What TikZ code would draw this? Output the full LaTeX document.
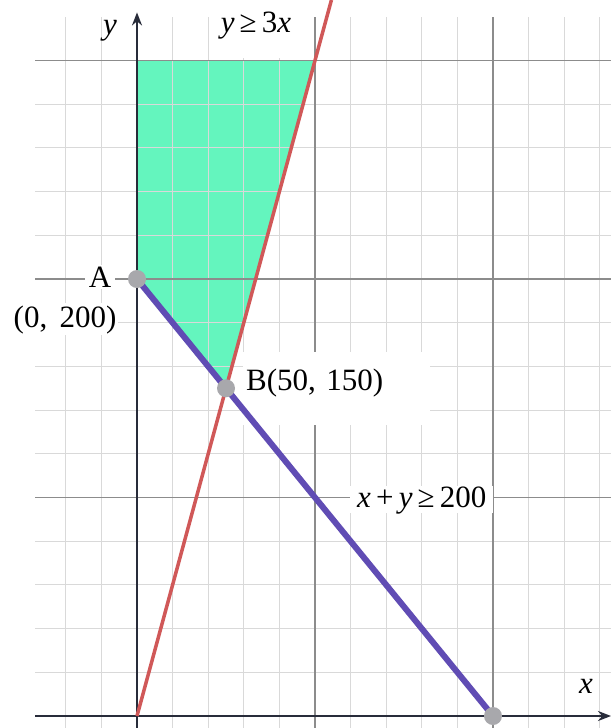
\documentclass[tikz,border=0pt]{standalone}
\usepackage{fontspec}
\setmainfont{Liberation Serif}
\usetikzlibrary{arrows.meta}
\definecolor{regfill}{RGB}{100,245,190}
\definecolor{redline}{RGB}{208,88,88}
\definecolor{purpline}{RGB}{96,76,180}
\definecolor{axcol}{RGB}{40,44,58}
\definecolor{ptgray}{RGB}{168,168,172}
\begin{document}
\begin{tikzpicture}[x=1.78pt, y=2.185pt,
    grd/.style={draw=black!15, line width=1pt},
    majgrd/.style={draw=black!45, line width=1.4pt},
    ax/.style={axcol, line width=2.4pt},
    arr/.style={-{Stealth[length=13pt,width=10pt]}},
    lbl/.style={fill=white, inner xsep=4pt, inner ysep=0pt, font=\fontsize{31}{36}\selectfont},
    pt/.style={circle, fill=ptgray, minimum size=18pt, inner sep=0pt}
  ]
  \useasboundingbox[fill=white] (-76.97,-5.49) rectangle (266.3,327.7);
  \coordinate (O) at (0,0);
  \coordinate (A) at (0,200);
  \coordinate (B) at (50,150);
  \coordinate (C) at (200,0);
  \coordinate (P) at (100,300);
  \coordinate (Q) at (0,300);
  \coordinate (T) at (109.23,327.7);
  % feasible region
  \fill[regfill] (Q) -- (A) -- (B) -- (P) -- cycle;
  % grid
  \foreach \gx in {-40,-20,20,40,...,260} \draw[grd] (\gx,-5.49) -- (\gx,320);
  \foreach \gy in {20,40,...,280} \draw[grd] (-57.3,\gy) -- (266.3,\gy);
  \foreach \gx in {100,200} \draw[majgrd] (\gx,-5.49) -- (\gx,320);
  \foreach \gy in {100,200,300} \draw[majgrd] (-57.3,\gy) -- (266.3,\gy);
  % labels
  \node[lbl, fill=none, anchor=base] (ylab) at (-15.2,311.7) {\textit{y}};
  \node[lbl, anchor=base] (xlab) at (252.2,10.5) {\textit{x}};
  \node[lbl, anchor=base, inner xsep=8pt, text height=18pt, text depth=25pt] (redlab) at (66.85,312.6) {\textit{y}\,≥\,3\textit{x}};
  \node[lbl, anchor=base, inner xsep=7pt, text height=22pt, text depth=5pt] (purplab) at (160,95.2) {\textit{x}\,+\,\textit{y}\,≥\,200};
  \node[lbl, anchor=base, text height=22pt, text depth=2pt] (Alab) at (-20.8,196.3) {A};
  \node[lbl, anchor=base, inner xsep=2pt, text height=24pt, text depth=8pt] (Acoord) at (-40.4,178.0) {(0,\hspace{0.4em}200)};
  \node[lbl, anchor=north west, text width=181pt, inner xsep=3pt, inner ysep=3pt, text height=35pt, text depth=32pt] (Blab) at (59.55,166.59) {B(50, 150)};
  % axes
  \draw[ax, arr] (-57.3,0) -- (266.3,0);
  \draw[ax, arr] (0,-5.49) -- (0,322);
  % constraint lines
  \draw[redline, line width=3.5pt] (O) -- (T);
  \draw[purpline, line width=6pt] (A) -- (C);
  \node[pt] (ptA) at (A) {};
  \node[pt] (ptB) at (B) {};
  \node[pt] (ptC) at (C) {};
\end{tikzpicture}
\end{document}
